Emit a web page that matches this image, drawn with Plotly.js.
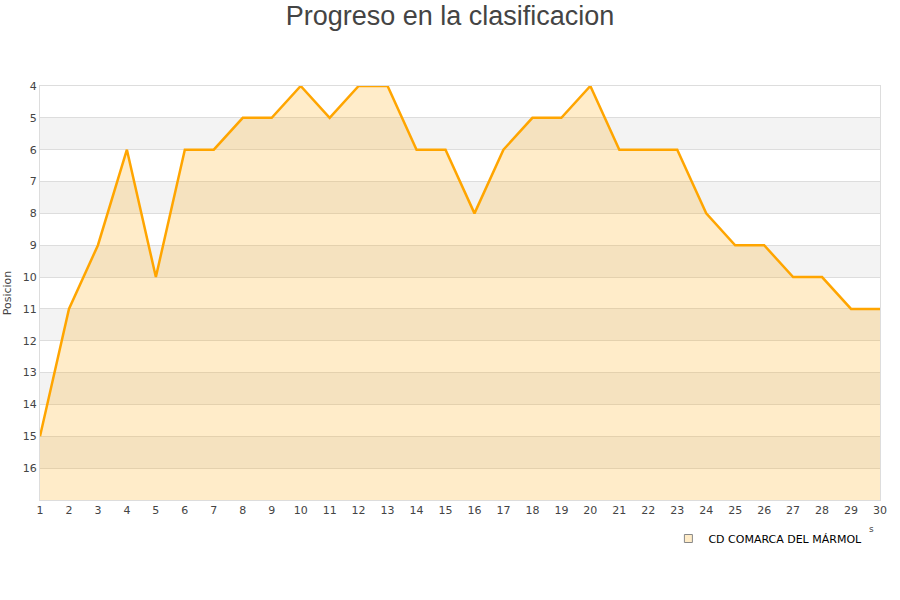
<!DOCTYPE html>
<html>
<head>
<meta charset="utf-8">
<script src="https://cdn.plot.ly/plotly-3.0.1.min.js"></script>
<style>
    body { margin: 0; background: #fff; }
    #chart { width: 900px; height: 600px; }
</style>
</head>
<body>
<div id="chart"></div>
<script>
// jornadas y posiciones
var jornadas = [1, 2, 3, 4, 5, 6, 7, 8, 9, 10, 11, 12, 13, 14, 15,
                16, 17, 18, 19, 20, 21, 22, 23, 24, 25, 26, 27, 28, 29, 30];
var posiciones = [15, 11, 9, 6, 10, 6, 6, 5, 5, 4, 5, 4, 4, 6, 6,
                  8, 6, 5, 5, 4, 6, 6, 6, 8, 9, 9, 10, 10, 11, 11];
var equipo = 'CD COMARCA DEL MÁRMOL';
var fondo = 17; // bottom of the reversed axis
var posTicks = [4, 5, 6, 7, 8, 9, 10, 11, 12, 13, 14, 15, 16];

var baseline = jornadas.map(function() { return fondo; });

// alternating grey bands
var shapes = [];
for (var p = 5; p < fondo; p += 2) {
    shapes.push({
        type: 'rect', xref: 'paper', yref: 'y', layer: 'below',
        x0: 0, x1: 1, y0: p, y1: p + 1,
        fillcolor: '#f3f3f3', line: { width: 0 }
    });
}

var data = [
    {
        x: jornadas, y: baseline, mode: 'lines',
        line: { width: 0 }, hoverinfo: 'skip', showlegend: false
    },
    {
        x: jornadas, y: posiciones, mode: 'lines', fill: 'tonexty',
        fillcolor: 'rgba(255,165,0,0.21)',
        line: { color: '#ffa500', width: 2.5 },
        showlegend: false, name: equipo
    },
    {
        x: [null], y: [null], mode: 'markers', name: equipo,
        marker: { symbol: 'square', size: 8, color: '#ffecc8', line: { color: '#888', width: 1 } }
    }
];

var layout = {
    width: 900, height: 600,
    paper_bgcolor: '#fff', plot_bgcolor: 'rgba(0,0,0,0)',
    margin: { l: 40, r: 20, t: 86, b: 100 },
    title: {
        text: 'Progreso en la clasificacion',
        font: { family: 'Liberation Sans, Arial, sans-serif', size: 27, color: '#444' },
        x: 0.5, xanchor: 'center', y: 0.99, yanchor: 'top'
    },
    font: { family: 'DejaVu Sans, sans-serif', size: 11, color: '#444' },
    shapes: shapes,
    annotations: [{
        text: 's', xref: 'paper', yref: 'paper', x: 0.995, y: -0.088,
        showarrow: false, font: { size: 9, color: '#444' }
    }],
    xaxis: {
        range: [1, 30], tickvals: jornadas, ticks: '',
        showgrid: false, zeroline: false,
        showline: true, linecolor: '#ddd', mirror: true,
        tickfont: { size: 11, color: '#444' }
    },
    yaxis: {
        range: [fondo, 4], tickvals: posTicks, ticks: '',
        showgrid: true, gridcolor: '#ddd', zeroline: false,
        showline: true, linecolor: '#ddd', mirror: true,
        tickfont: { size: 11, color: '#444' },
        title: { text: 'Posicion', font: { size: 11, color: '#444' }, standoff: 8 }
    },
    legend: {
        orientation: 'h', x: 0.985, xanchor: 'right', y: -0.058, yanchor: 'top',
        font: { family: 'DejaVu Sans, sans-serif', size: 11, color: '#000' }
    }
};

Plotly.newPlot('chart', data, layout, { displayModeBar: false });
</script>
</body>
</html>
